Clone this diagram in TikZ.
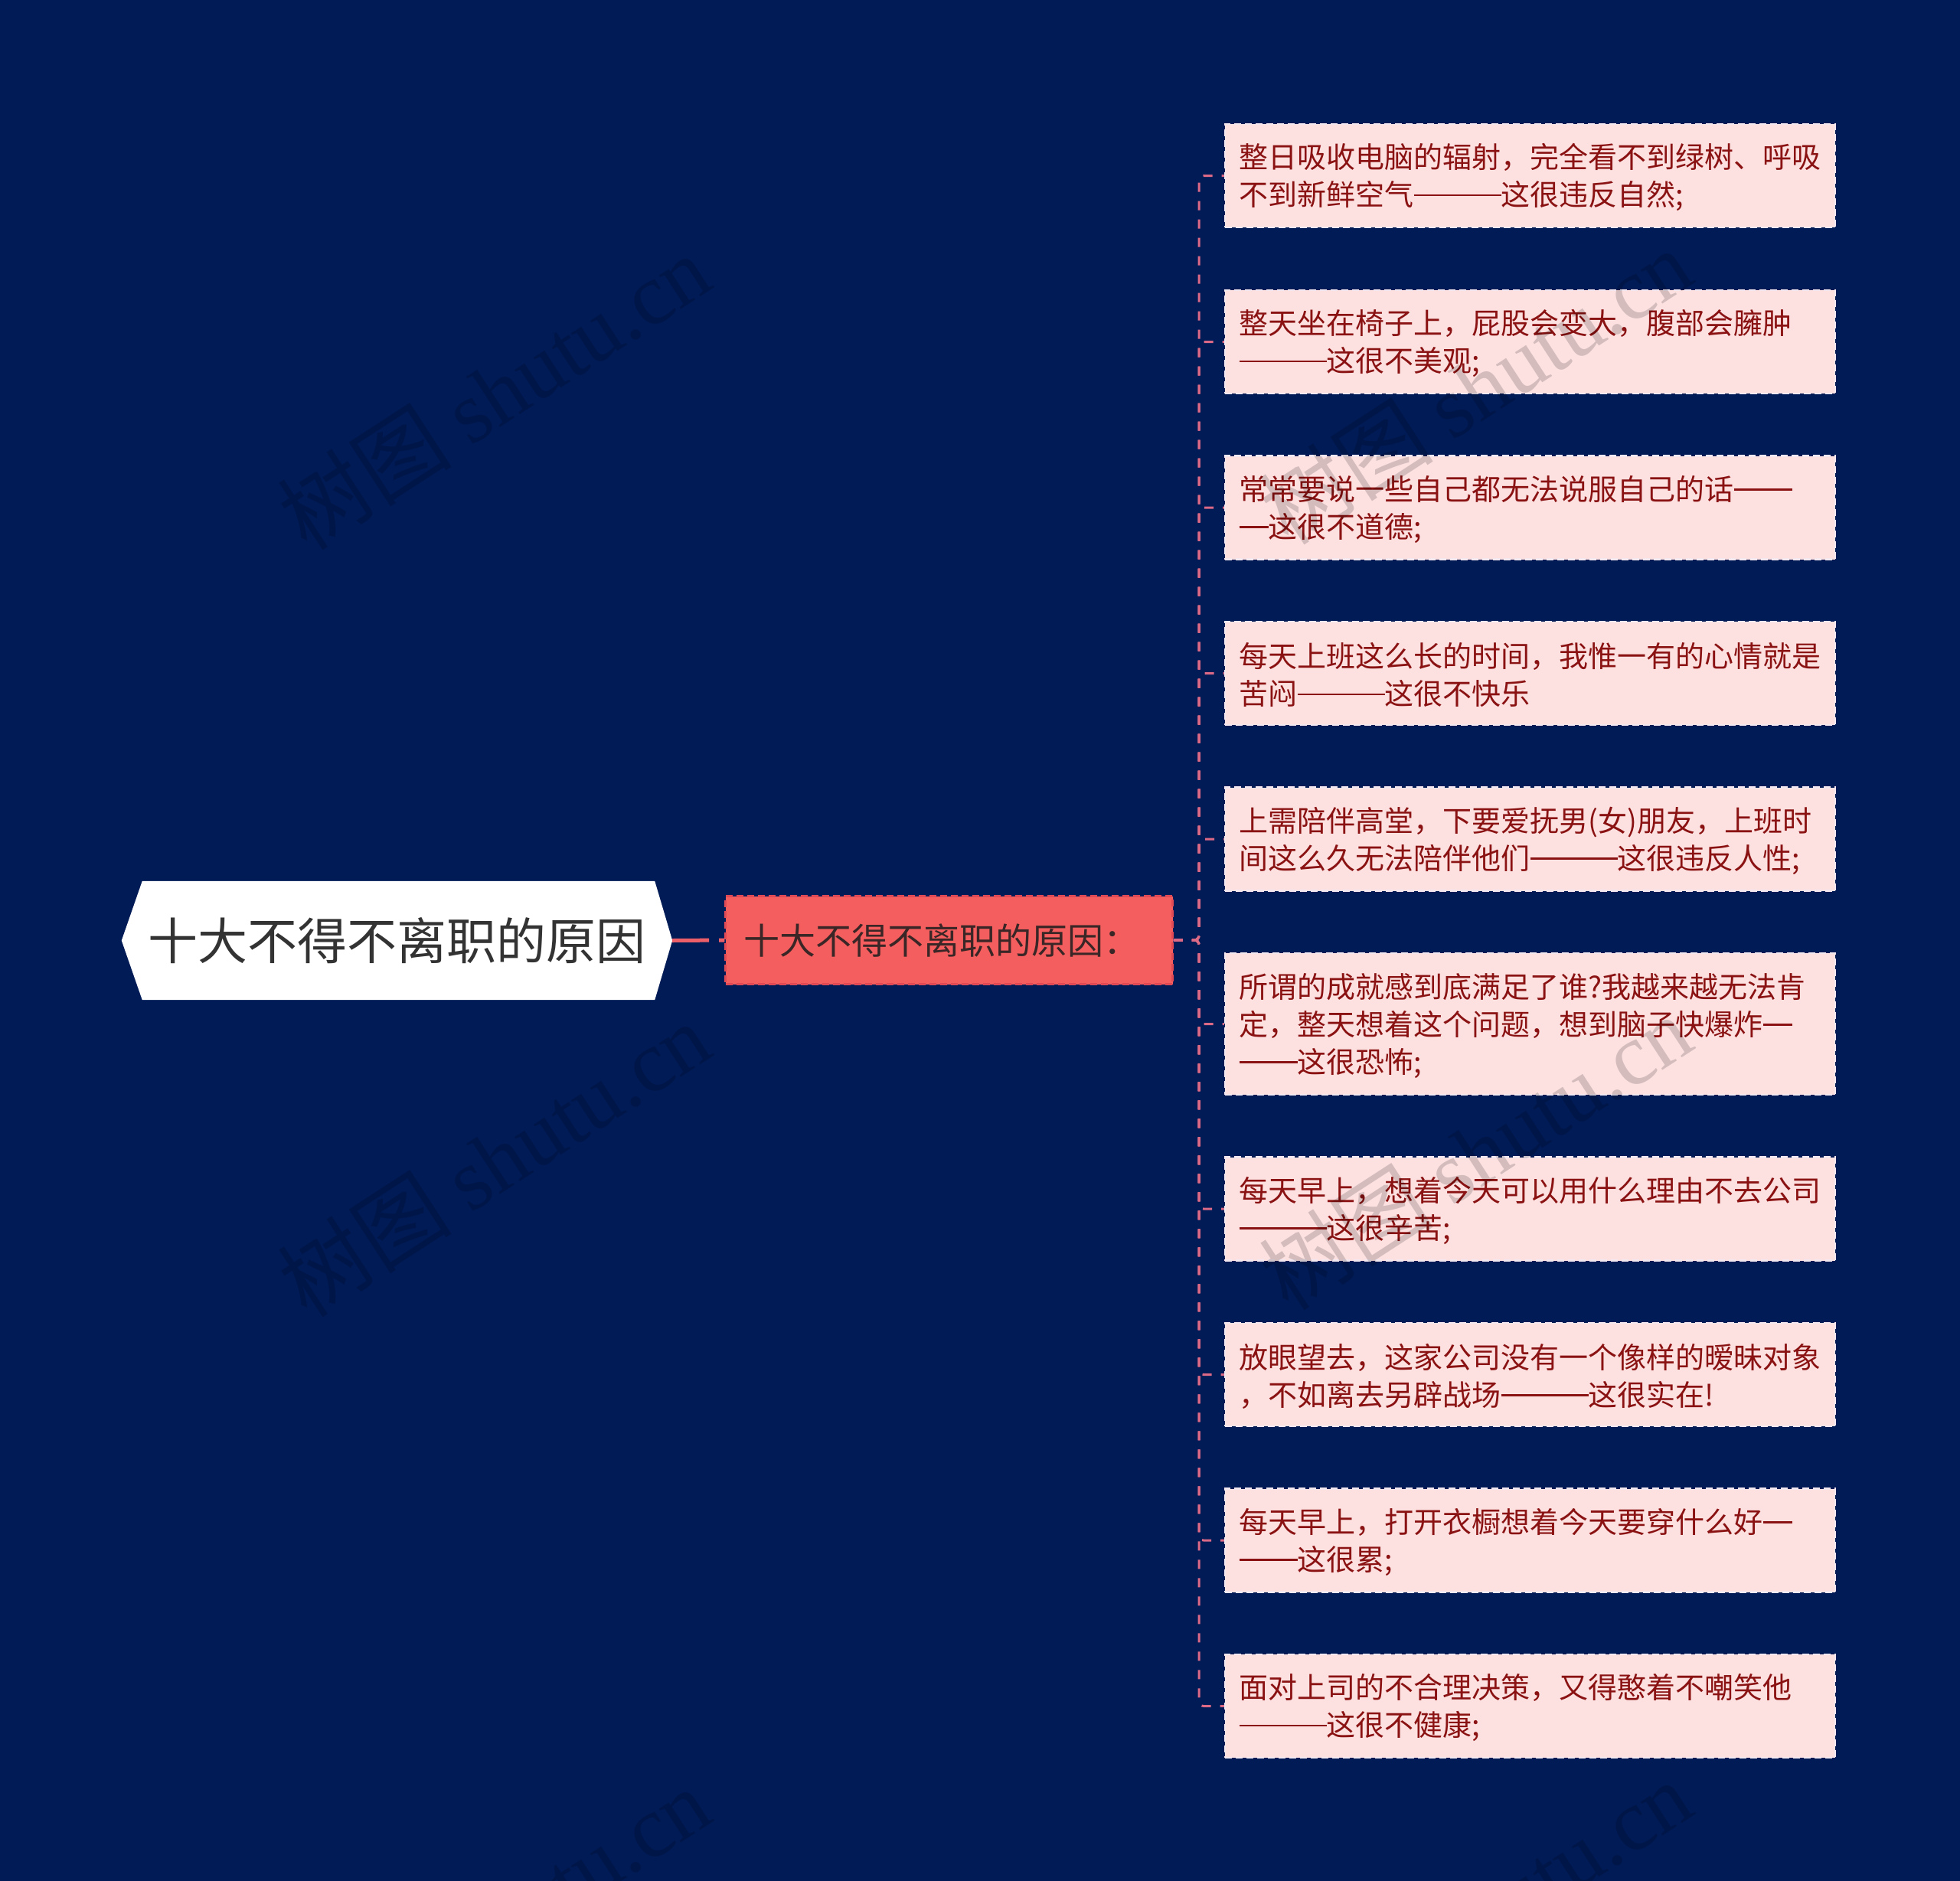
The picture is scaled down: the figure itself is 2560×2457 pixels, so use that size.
\documentclass[tikz,border=0pt]{standalone}
\usepackage{fontspec}
\setmainfont{Noto Sans CJK SC}
\newfontfamily\wmlat{Liberation Serif}
\usetikzlibrary{backgrounds}
\newcommand\emd{\rule[12.5pt]{1em}{2.6pt}}
\newcommand\tp{\rule{0pt}{37pt}}
\definecolor{bg}{HTML}{011B57}
\definecolor{rootfill}{HTML}{FFFFFF}
\definecolor{roottext}{HTML}{333333}
\definecolor{midfill}{HTML}{F45E5E}
\definecolor{midborder}{HTML}{E04A55}
\definecolor{midtext}{HTML}{3A2626}
\definecolor{leaffill}{HTML}{FDE1E1}
\definecolor{leafborder}{HTML}{F4E8F0}
\definecolor{leaftext}{HTML}{8A1212}
\definecolor{connred}{HTML}{EC5F68}
\definecolor{connpink}{HTML}{DC6A86}
\tikzset{
  rootnode/.style={minimum width=719pt, minimum height=155pt, inner sep=0pt,
    text=roottext, font=\fontsize{65}{72}\selectfont},
  midnode/.style={minimum width=584pt, minimum height=115pt, inner sep=0pt,
    fill=midfill, draw=midborder, line width=2.5pt, dash pattern=on 9pt off 5pt,
    text=midtext, font=\fontsize{47}{54}\selectfont},
  leaf/.style={minimum width=797pt, minimum height=135pt, inner xsep=18.5pt, inner ysep=0pt,
    text width=760pt, align=left, fill=leaffill, draw=leafborder, line width=2.5pt,
    dash pattern=on 9pt off 5pt, text=leaftext,
    font=\fontsize{38}{49}\selectfont},
  rootconn/.style={draw=connred, line width=5pt, dash pattern=on 48pt off 13pt},
  branch/.style={draw=connpink, line width=3pt, dash pattern=on 12pt off 12pt, rounded corners=6pt},
  wm/.style={text=black, text opacity=0.16, font=\fontsize{114}{120}\selectfont, rotate=33, inner sep=0pt}
}
\begin{document}
\begin{tikzpicture}[x=1pt,y=-1pt]
\useasboundingbox (0,0) rectangle (2560,2457);
\begin{scope}[on background layer]
\fill[bg] (0,0) rectangle (2560,2457);
\end{scope}

% root
\node[rootnode] (root) at (518.5,1228.5) {十大不得不离职的原因};
\begin{scope}[on background layer]
\fill[rootfill] (root.west) -- ([xshift=27pt]root.north west) -- ([xshift=-23pt]root.north east)
  -- (root.east) -- ([xshift=-23pt]root.south east) -- ([xshift=27pt]root.south west) -- cycle;
\end{scope}

% middle
\node[midnode] (mid) at (1239.5,1228) {\hspace*{-20pt}十大不得不离职的原因：};

% leaves
\node[leaf] (b1) at (1998.5,229.5) {\tp 整日吸收电脑的辐射，完全看不到绿树、呼吸\\不到新鲜空气\emd\emd\emd 这很违反自然;};
\node[leaf] (b2) at (1998.5,446.5) {\tp 整天坐在椅子上，屁股会变大，腹部会臃肿\\\emd\emd\emd 这很不美观;};
\node[leaf] (b3) at (1998.5,663) {\tp 常常要说一些自己都无法说服自己的话\emd\emd\\\emd 这很不道德;};
\node[leaf] (b4) at (1998.5,879.5) {\tp 每天上班这么长的时间，我惟一有的心情就是\\苦闷\emd\emd\emd 这很不快乐};
\node[leaf] (b5) at (1998.5,1096) {\tp 上需陪伴高堂，下要爱抚男(女)朋友，上班时\\间这么久无法陪伴他们\emd\emd\emd 这很违反人性;};
\node[leaf, minimum height=185pt] (b6) at (1998.5,1337.5) {\tp 所谓的成就感到底满足了谁?我越来越无法肯\\定，整天想着这个问题，想到脑子快爆炸\emd\\\emd\emd 这很恐怖;};
\node[leaf] (b7) at (1998.5,1579) {\tp 每天早上，想着今天可以用什么理由不去公司\\\emd\emd\emd 这很辛苦;};
\node[leaf] (b8) at (1998.5,1795.5) {\tp 放眼望去，这家公司没有一个像样的暧昧对象\\，不如离去另辟战场\emd\emd\emd 这很实在!};
\node[leaf] (b9) at (1998.5,2012) {\tp 每天早上，打开衣橱想着今天要穿什么好\emd\\\emd\emd 这很累;};
\node[leaf] (b10) at (1998.5,2228.5) {\tp 面对上司的不合理决策，又得憨着不嘲笑他\\\emd\emd\emd 这很不健康;};

% connectors
\coordinate (hub) at (1566,1228);
\begin{scope}[on background layer]
\draw[rootconn] (root.east) -- (mid.west);
\foreach \b in {b1,b2,b3,b4,b5,b6,b7,b8,b9,b10}{
  \draw[branch] (mid.east) -- (hub) |- (\b.west);
}
\end{scope}

% watermarks
\foreach \wx/\wy [count=\i] in {645/512,1927/505,645/1514,1927/1505,645/2514,1927/2505}{
  \node[wm] (wm\i) at (\wx,\wy) {树图 {\wmlat shutu.cn}};
}
\end{tikzpicture}
\end{document}
